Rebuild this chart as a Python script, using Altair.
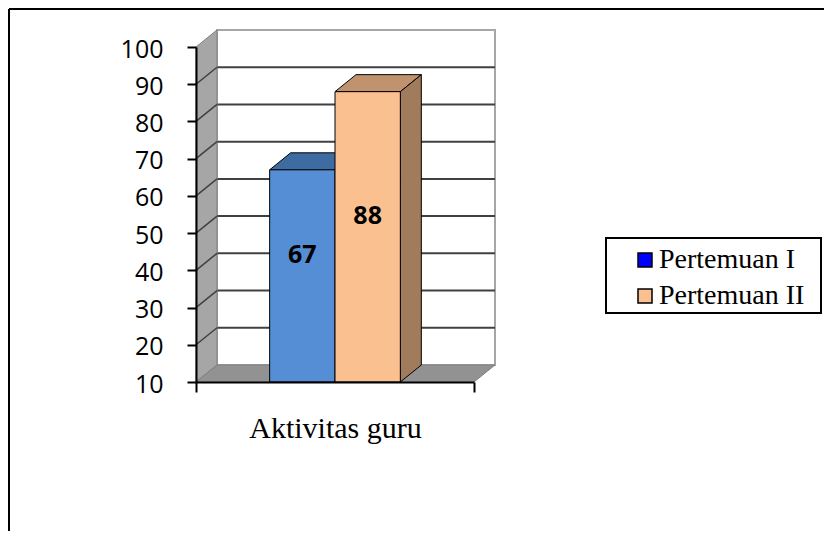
import altair as alt
import pandas as pd

# ---------------- data ----------------
categories = ["Aktivitas guru"]
series = ["Pertemuan I", "Pertemuan II"]
values = [67, 88]
y_ticks = [10, 20, 30, 40, 50, 60, 70, 80, 90, 100]

# ---------------- style ----------------
front_colors = ["#558ed5", "#fac090"]
top_colors = ["#3f6ba3", "#c0936e"]
side_colors = ["#35598a", "#a07b5c"]
legend_colors = ["#0000ff", "#fac090"]

Y_MIN, Y_MAX = y_ticks[0], y_ticks[-1]
DX = 0.0755        # 3-D depth, in x-scale units
DY = 4.57          # 3-D depth, in y-scale units
BAR_W = 0.235      # width of one bar, in x-scale units
CENTER = 0.5

W, H = 278, 335
xs = alt.Scale(domain=[0, 1], nice=False, zero=False)
ys = alt.Scale(domain=[Y_MIN, Y_MAX], nice=False, zero=False)

x_axis = alt.Axis(
    values=[0, 1], labels=False, ticks=True, tickSize=10, tickWidth=2, tickColor="black",
    domainColor="black", domainWidth=2, grid=False, zindex=1,
    title=categories[0], titleFont="Liberation Serif", titleFontSize=30,
    titleFontWeight="normal", titleColor="black", titleX=W / 2, titleY=55,
    titleBaseline="alphabetic", titleAlign="center")
y_axis = alt.Axis(
    values=y_ticks, labelFont="Open Sans", labelFontSize=25, labelColor="black",
    labelPadding=24, tickSize=9, tickWidth=2, tickColor="black", domainColor="black",
    domainWidth=2, grid=False, title="", zindex=1, labelOffset=2)


def X(f, **kw):
    return alt.X(f, type="quantitative", scale=xs, axis=x_axis, **kw)


def Y(f, **kw):
    return alt.Y(f, type="quantitative", scale=ys, axis=y_axis, **kw)


one = pd.DataFrame({"k": [0]})

# back wall
back = pd.DataFrame({"x0": [DX], "x1": [1 + DX], "y0": [Y_MIN + DY], "y1": [Y_MAX + DY]})
back_wall = alt.Chart(back).mark_rect(fill="white", stroke="#a6a6a6", strokeWidth=2).encode(
    x=X("x0"), x2="x1", y=Y("y0"), y2="y1")

grid_vals = y_ticks[1:-1]
grid = pd.DataFrame({"v": grid_vals,
                     "vb": [v + DY for v in grid_vals],
                     "xa": [0.0] * len(grid_vals),
                     "xb": [DX] * len(grid_vals),
                     "xc": [1 + DX] * len(grid_vals)})
back_grid = alt.Chart(grid).mark_rule(color="#404040", strokeWidth=2).encode(
    x=X("xb"), x2="xc", y=Y("vb"))

# left wall
lw = pd.DataFrame({"x": [0, DX], "y0": [Y_MIN, Y_MIN + DY], "y1": [Y_MAX, Y_MAX + DY]})
left_wall = alt.Chart(lw).mark_area(orient="vertical", fill="#a6a6a6", stroke="#7f7f7f",
                                    strokeWidth=1).encode(
    x=X("x"), y=Y("y0", stack=None), y2="y1")
left_grid = alt.Chart(grid).mark_rule(color="#404040", strokeWidth=1.5).encode(
    x=X("xa"), x2="xb", y=Y("v"), y2="vb")

# floor
fl = pd.DataFrame({"y": [Y_MIN, Y_MIN + DY], "x0": [0, DX], "x1": [1, 1 + DX]})
floor = alt.Chart(fl).mark_area(orient="horizontal", fill="#929292", stroke="#7f7f7f",
                                strokeWidth=1).encode(
    y=Y("y"), x=X("x0", stack=None), x2="x1")

# bars
tops, sides, fronts, labels = [], [], [], []
for i, (s, v) in enumerate(zip(series, values)):
    a = CENTER - BAR_W + i * BAR_W
    b = a + BAR_W
    t = pd.DataFrame({"y": [v, v + DY], "x0": [a, a + DX], "x1": [b, b + DX]})
    tops.append(alt.Chart(t).mark_area(orient="horizontal", fill=top_colors[i], stroke="black",
                                       strokeWidth=1).encode(
        y=Y("y"), x=X("x0", stack=None), x2="x1"))
    sd = pd.DataFrame({"x": [b, b + DX], "y0": [Y_MIN, Y_MIN + DY], "y1": [v, v + DY]})
    sides.append(alt.Chart(sd).mark_area(orient="vertical", fill=side_colors[i], stroke="black",
                                         strokeWidth=1).encode(
        x=X("x"), y=Y("y0", stack=None), y2="y1"))
    fr = pd.DataFrame({"x0": [a], "x1": [b], "y0": [Y_MIN], "y1": [v], "series": [s],
                       "xm": [(a + b) / 2], "ym": [(Y_MIN + v) / 2], "val": [v]})
    fronts.append(alt.Chart(fr).mark_rect(fill=front_colors[i], stroke="black",
                                          strokeWidth=1).encode(
        x=X("x0"), x2="x1", y=Y("y0"), y2="y1"))
    labels.append(alt.Chart(fr).mark_text(font="Open Sans", fontWeight="bold", fontSize=25,
                                          color="black", dy=-21).encode(
        x=X("xm"), y=Y("ym"), text="val:Q"))

# legend (drawn by Vega from the series list)
leg_df = pd.DataFrame({"series": series})
legend_layer = alt.Chart(leg_df).mark_square(opacity=0).encode(
    x=alt.value(0), y=alt.value(0),
    fill=alt.Fill("series:N", scale=alt.Scale(domain=series, range=legend_colors),
                  legend=alt.Legend(orient="none", legendX=435, legendY=199, padding=0,
                                    title=None, labelFont="Liberation Serif", labelFontSize=28,
                                    labelColor="black", symbolType="square", symbolSize=196,
                                    symbolStrokeColor="black", symbolStrokeWidth=1.5,
                                    symbolOpacity=1, labelOffset=0, rowPadding=8,
                                    labelLimit=400)))
legend_box = alt.Chart(one).mark_rect(fill="white", stroke="black", strokeWidth=2).encode(
    x=alt.value(410), x2=alt.value(625), y=alt.value(191), y2=alt.value(266))

# outer frame
frame_top = alt.Chart(one).mark_rule(color="black", strokeWidth=2).encode(
    x=alt.value(-187), x2=alt.value(700), y=alt.value(-38))
frame_left = alt.Chart(one).mark_rule(color="black", strokeWidth=2).encode(
    x=alt.value(-187), y=alt.value(-38), y2=alt.value(600))

chart = alt.layer(
    frame_top, frame_left, legend_box,
    back_wall, back_grid, left_wall, left_grid, floor,
    *tops, *sides, *fronts, *labels, legend_layer
).properties(
    width=W, height=H,
    autosize="none",
    padding={"left": 188, "top": 39, "right": 350, "bottom": 149},
    background="white",
).configure_view(stroke=None)

chart.save("out.html", embed_options={"renderer": "svg", "actions": False})
